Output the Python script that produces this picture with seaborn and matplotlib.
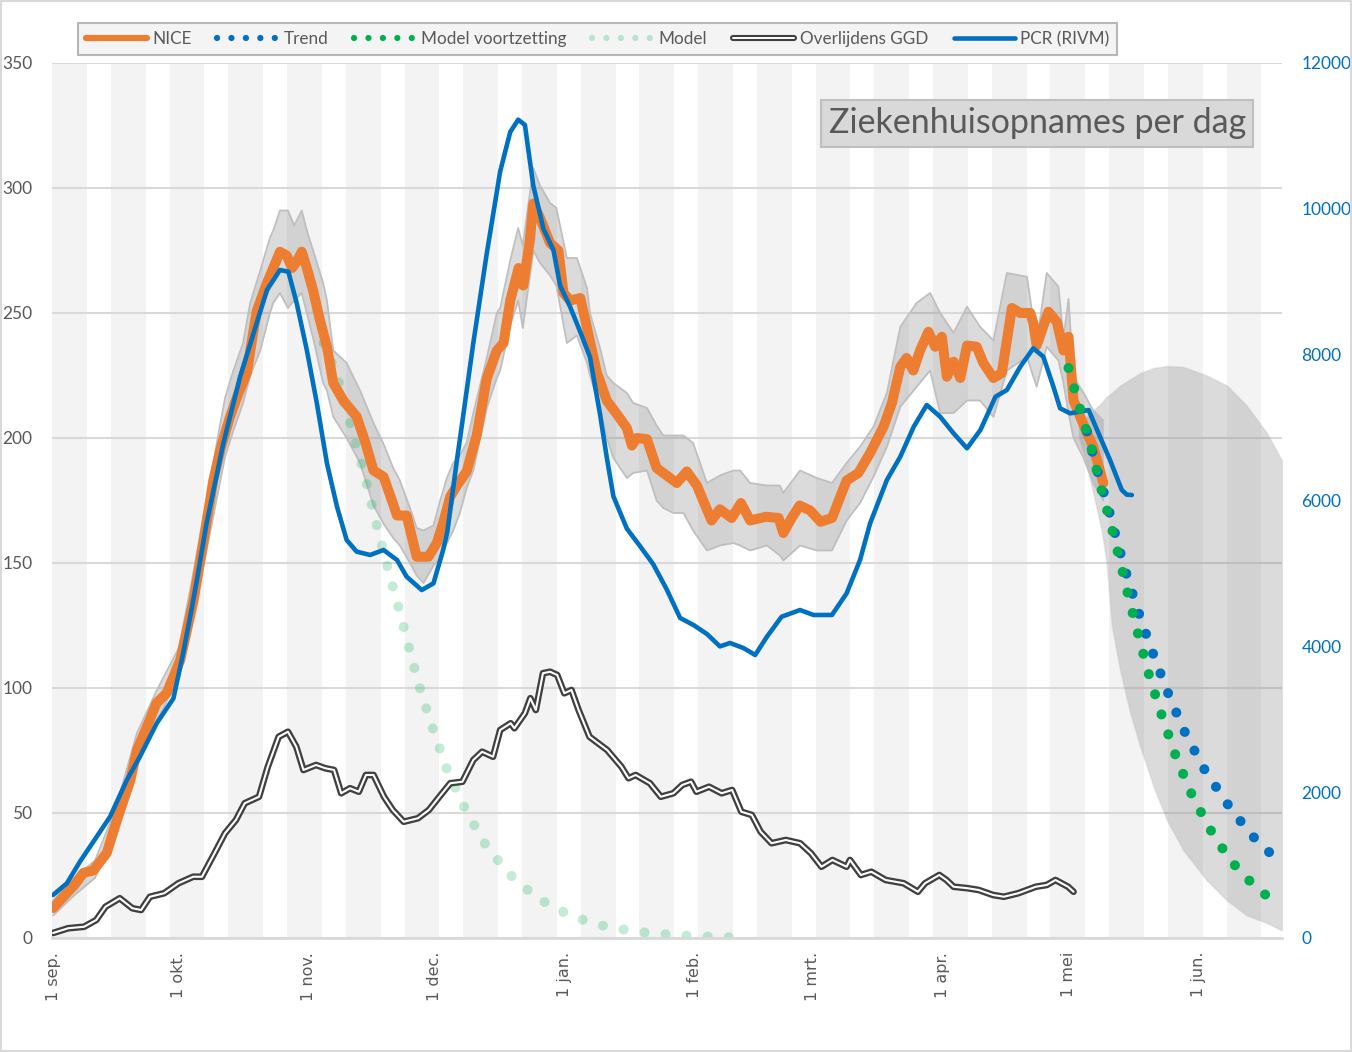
import seaborn as sns
import matplotlib.pyplot as plt
import matplotlib.patheffects as pe
from matplotlib.lines import Line2D
from matplotlib.patches import Rectangle
import pandas as pd

# days since 1 sep 2020
nice_days = [0, 3.3, 5, 7.2, 9.6, 12.8, 15.2, 18.4, 20, 22.5, 24.7, 27.1, 30.3, 33.5, 36, 38.2, 40, 42.2,
             44, 46.2, 47.5, 48.6, 51, 53, 54.1, 55.7, 57, 58.1, 59.3, 60.5, 62, 63.5, 65.3, 66.8, 69.2,
             72.4, 74.5, 76.4, 78.8, 81, 82, 84.3, 86.7, 89.5, 91.5, 93, 94.7, 96.3, 98.6, 101, 103.4,
             105.8, 107.4, 109, 111, 112.1, 113.7, 114.5, 116.1, 118.5, 120.5, 121.7, 123.3, 125.7, 127.3,
             129.6, 132, 134.4, 136.8, 138, 139.2, 141.6, 143.9, 146.3, 148.7, 151.1, 153.5, 155, 157, 159,
             161.8, 164, 166.2, 170, 173, 174.1, 176.1, 178, 180.5, 183, 185.7, 189.2, 192, 194.8, 198,
             200, 202, 203.5, 205.1, 206.7, 208.7, 210.3, 211.9, 213.1, 214.7, 216.3, 217.9, 220.2, 221.8,
             224.2, 226.2, 228.6, 230.6, 233, 233.7, 234.5, 237.3, 239.3, 240.9, 242.1, 243.3, 244.9,
             246.5, 248, 250.4]
nice_vals = [12, 18, 21, 26, 27, 34, 47, 63, 75, 85, 94, 98, 111, 135, 160, 183, 196, 208.5,
             217, 226, 240, 251, 262, 270, 274.5, 273, 268, 270.5, 274.5, 268, 259, 248, 236.5, 222, 215,
             208.5, 198, 187, 184.5, 174, 169, 169, 152.5, 152.5, 158, 166, 176.6, 181, 186.6, 201, 223.8,
             235, 238, 255, 268, 261, 279.5, 293.8, 288, 278, 275, 258, 255, 256, 244,
             226.6, 215, 209.6, 204, 197, 200, 199.5, 188, 185, 182, 186.6, 181, 175, 167, 171.5,
             168, 174, 167, 168.5, 168, 162, 168, 173, 171, 166.5, 168, 183, 186, 194, 204.5,
             214, 228.5, 232, 227, 235, 242.5, 236.5, 240.5, 224.5, 230.5, 224, 237, 236.5, 230,
             224, 226, 252, 250, 250, 246, 237, 250.5, 246.5, 235, 240.5, 215, 208.5,
             202, 196.5, 182]

band_days = [0, 5, 10, 15, 20, 25, 30, 33, 36, 41, 43, 45.3, 47, 49.4, 51.7, 52.5, 54.1, 56, 57.5, 59.3,
             60.5, 62, 64.4, 65.3, 66.8, 70, 73.2, 76.4, 78.7, 81.1, 82.7, 85.1, 86.7, 88.3, 90.7, 92.3,
             93.9, 95.4, 97, 98.6, 100.2, 101.8, 103.4, 105.8, 106.6, 109, 110.9, 112, 114.5, 116.1, 118.5,
             120, 122.5, 124.9, 127.3, 128, 130.4, 132, 133.6, 136.8, 138.3, 141.6, 143.9, 145.5, 147.9,
             150.3, 152.6, 155.9, 159, 162.2, 163.8, 166.2, 170.2, 173.3, 174.1, 178.1, 182.1, 185.7,
             189.2, 192.4, 195.6, 198.8, 202, 205.9, 209.1, 211.5, 214.7, 217.9, 221, 224.2, 227.4, 232.2,
             234.5, 236.9, 239.7, 240.9, 242.1, 243.3, 245.7, 248, 250.4]
band_lo = [9, 17, 24, 42, 70, 88, 104, 126, 150, 192.5, 203, 214, 225, 235, 250, 254, 258, 252, 255, 258,
           250, 240, 222, 219, 208.5, 200, 190, 173, 166, 160, 157, 150, 145, 142, 149, 152,
           158, 163, 170, 180, 187, 200, 212, 224, 227, 245, 255, 244, 275, 270, 265,
           261, 238, 241, 230, 225, 212, 200, 192, 184, 186, 187, 175, 172, 170,
           170, 163, 155, 157, 158, 157, 155, 157, 153, 151, 157, 155, 155,
           167, 174, 184.5, 196.5, 212.5, 220.5, 227, 210, 210, 215, 215, 208.5, 227, 232.5,
           220.5, 236.5, 231, 222, 210, 200, 192, 182, 175]
band_hi = [15, 24, 31, 52, 82, 100, 116, 142, 170, 216, 227, 238, 254, 267, 280, 283, 291, 291, 285, 291,
           283, 275, 262, 255, 235, 230, 219, 206, 198, 188, 183, 172, 164, 163, 165, 175,
           184, 190, 193, 198, 210, 221, 232, 250, 252, 271, 284, 277, 308, 301, 294,
           292, 272, 272, 260, 250, 236, 225, 222, 218, 214, 212, 205, 201, 201,
           201, 198, 182, 185, 187, 187, 182, 181, 181, 178, 187, 184, 182,
           190, 196.5, 204.5, 218, 244.5, 254, 258, 250, 242, 252.5, 244.5, 239, 266, 264.5,
           238, 266, 260.5, 240, 255.6, 224.5, 218, 211, 207]

pcr_days = [0, 3.3, 6.4, 10.4, 13.6, 17.6, 20.7, 24.7, 28.7, 31, 33, 34.3, 36.6, 40.6, 44.6, 47.8, 51,
            54.1, 56.1, 58.1, 60.5, 62.9, 65.3, 67.7, 70, 72.4, 75.6, 78.8, 82, 84.3, 87.9, 90.7, 93,
            94, 96.3, 97, 100.2, 103.4, 106.6, 109, 110.9, 112.5, 114.5, 116.9, 119.3, 120.9, 123.3,
            125.7, 128, 130.4, 132, 133.6, 136.8, 140, 143.1, 146.3, 149.5, 152.7, 155.9, 159, 161.4,
            164.6, 167.4, 170.2, 173.7, 178.1, 181.3, 185.7, 189.2, 192.4, 194.8, 198.8, 202, 205.2,
            208.3, 211.5, 214.7, 217.9, 221.1, 224.7, 227.4, 230.6, 233.7, 236.1, 238.5, 240.1, 242.5,
            246.9, 249.6, 252, 254.8, 256, 257.2]
pcr_vals = [590, 750, 1046, 1389, 1664, 2167, 2486, 2943, 3286, 3900, 4500, 4910, 5687, 6784, 7698, 8293,
            8887, 9161, 9138, 8704, 8064, 7333, 6510, 5915, 5458, 5298, 5253, 5321, 5184, 4955, 4772,
            4864, 5321, 5568, 6560, 6839, 8161, 9386, 10513, 11054, 11223, 11150, 10317, 9729, 9435,
            8946, 8653, 8311, 7968, 7186, 6596, 6056, 5615, 5370, 5125, 4782, 4389, 4292, 4169, 3999,
            4046, 3977, 3881, 4132, 4406, 4498, 4430, 4430, 4727, 5184, 5687, 6281, 6601, 7012, 7310,
            7149, 6921, 6716, 6967, 7424, 7515, 7835, 8087, 7972, 7561, 7264, 7195, 7241, 6875, 6555,
            6144, 6080, 6075]

ggd_days = [0, 3.6, 7.4, 10.3, 12.5, 15.9, 18.9, 21, 23.1, 26.5, 29.9, 33.4, 35.5, 38.5, 41, 43.6, 45.7,
            49.1, 51.2, 53.8, 56, 58, 59.7, 62.7, 64.9, 67, 68.7, 70.8, 72.9, 74.6, 76.4, 78.9, 81, 83.6,
            87, 89.6, 92.1, 94.7, 97.6, 100.2, 102.3, 104.9, 106.6, 109.1, 110, 112.5, 113.8, 115.1,
            116.8, 118.5, 120.2, 121.9, 123.6, 125.3, 127.9, 132.1, 135.5, 137.2, 138.9, 142.3, 144.9,
            147.9, 150, 152.1, 153.4, 156.4, 159.4, 161.9, 164.1, 166.6, 168.7, 171.3, 174.7, 178.1,
            180.7, 183.2, 185.8, 189.2, 190, 192.6, 195.1, 198.5, 202.8, 206.2, 207.9, 211.3, 213,
            214.7, 218.1, 220.7, 224.1, 226.7, 230.1, 234.3, 236.9, 239, 242, 243.3]
ggd_vals = [2, 3.9, 4.5, 7.2, 12.5, 15.9, 11.9, 11.2, 16.5, 17.9, 21.9, 24.5, 24.5, 33.9, 41.9, 47.2, 53.9,
            56.5, 68.5, 80.5, 82.5, 76.5, 67.2, 69.2, 67.9, 67.2, 57.9, 59.9, 58.5, 65.2, 65.2, 56.5, 51.2,
            46.5, 47.9, 51.2, 56.5, 61.9, 62.5, 71.2, 74.5, 72.5, 83.2, 85.9, 83.9, 89.9, 95.9, 91.2,
            105.9, 106.5, 105.2, 97.9, 99.2, 91.2, 80.5, 75.2, 68.5, 63.9, 65.2, 61.9, 56.5,
            57.9, 61.2, 62.5, 58.5, 60.5, 57.9, 59.2, 50.5, 49.2, 42.5, 37.9, 39.2, 37.9,
            33.9, 28.5, 31.2, 28.5, 31.2, 25.2, 26.5, 23.2, 21.9, 18.5, 21.9, 25.2, 23.2,
            20.5, 19.9, 19.2, 17.2, 16.5, 17.9, 20.5, 21.2, 23.2, 20.5, 18.5]

model_days = [64.5, 66.7, 68.2, 69.4, 70.8, 72.1, 73.4, 74.6, 75.7, 76.9, 78, 79.2, 80.4, 81.7, 83.5,
              85.3, 87.8, 90.8, 93.9, 97.9, 102.5, 108.4, 115.5, 123.9, 132.8, 142.5, 152, 161.4]
model_vals = [238, 229, 222, 214, 206, 198, 190.5, 183, 175, 167, 159.5, 152, 144, 136.5, 125,
              113.2, 97.9, 82.5, 67.5, 52.8, 38.8, 26.1, 15.9, 8.5, 4.1, 1.9, 0.8, 0.3]

cont_days = [242.1, 244.7, 247.4, 249.6, 252.1, 254.4, 256.6, 259, 261.5, 264.4, 267.5, 271.1, 275.5,
             280.6, 287.1, 291.1]
cont_vals = [228, 212.5, 197, 181.6, 166, 150.7, 135.2, 119.5, 104, 88.7, 73.6, 58.7, 44.4, 31.2, 19.6, 14.9]

trend_days = [246.5, 248.7, 251.5, 254, 256.6, 259.6, 262.8, 266.2, 270, 274.4, 279.7, 285.4, 292.3]
trend_vals = [6950, 6464, 5915, 5376, 4855, 4330, 3812, 3305, 2802, 2322, 1861, 1430, 1046]

cone_days = [244.5, 246, 248, 250, 251.2, 252.4, 254.4, 256.8, 259.2, 262.4, 265.6, 269.5, 275.1, 279.9,
             284.6, 289.4, 293]
cone_lo = [200, 192, 178, 163, 150, 125, 107, 90, 76.5, 60.5, 47, 35, 23, 15, 9, 6, 3]
cone_hi = [204, 208, 211, 214, 216.5, 218, 221, 223.5, 226, 228, 228.8, 228.5, 225, 221, 213, 202, 191]

month_days = [0, 30, 61, 91, 122, 153, 181, 212, 242, 273]
month_labels = ["1 sep.", "1 okt.", "1 nov.", "1 dec.", "1 jan.", "1 feb.", "1 mrt.", "1 apr.", "1 mei", "1 jun."]

ORANGE = "#ED7D31"
BLUE = "#0070C0"
GREEN = "#00B050"
TXT = "#595959"

sns.set_style("white")
plt.rcParams["font.family"] = ["Lato", "DejaVu Sans"]

fig = plt.figure(figsize=(13.52, 10.52), dpi=100)
ax = fig.add_axes([0.03846, 0.10837, 0.90976, 0.83175])

# week stripes
for k in range(21):
    ax.axvspan(14 * k - 0.2, 14 * k + 8.1, color="#f3f3f3", lw=0, zorder=0)

ax.set_axisbelow("line")
ax.yaxis.grid(True, color="#d9d9d9", lw=1.5)
ax.xaxis.grid(False)

ax.fill_between(band_days, band_lo, band_hi, color="#7f7f7f", alpha=0.28, lw=0, zorder=1.6)
ax.plot(band_days, band_lo, color="#bfbfbf", lw=1.3, zorder=1.7)
ax.plot(band_days, band_hi, color="#bfbfbf", lw=1.3, zorder=1.7)
ax.fill_between(cone_days, cone_lo, cone_hi, color="#7f7f7f", alpha=0.28,
                edgecolor="#bfbfbf", lw=1.3, zorder=1.6)

dotted = (0, (0.01, 2.1))

nice = pd.DataFrame({"dag": nice_days, "opnames": nice_vals})
ggd = pd.DataFrame({"dag": ggd_days, "overl": ggd_vals})
model = pd.DataFrame({"dag": model_days, "model": model_vals})

sns.lineplot(data=model, x="dag", y="model", ax=ax, color=GREEN, alpha=0.24, lw=7.2,
             linestyle=dotted, dash_capstyle="round")
sns.lineplot(data=ggd, x="dag", y="overl", ax=ax, color="white", lw=1.5,
             path_effects=[pe.Stroke(linewidth=4.8, foreground="#404040"), pe.Normal()])
sns.lineplot(data=nice, x="dag", y="opnames", ax=ax, color=ORANGE, lw=7.2)

ax.set_xlim(-0.25, 293)
ax.set_ylim(0, 350)
ax.set_yticks(range(0, 351, 50))
ax.set_xticks(month_days)
ax.set_xticklabels(month_labels, rotation=90, family="DejaVu Sans", fontsize=11.5, color=TXT)
ax.tick_params(axis="y", length=0, labelsize=12.5, labelcolor=TXT, pad=14)
ax.tick_params(axis="x", length=0, pad=10)
ax.set_xlabel("")
ax.set_ylabel("")
for s in ["top", "left", "right"]:
    ax.spines[s].set_visible(False)
ax.spines["bottom"].set_color("#d9d9d9")
ax.spines["bottom"].set_linewidth(2)

# right axis: PCR
ax2 = ax.twinx()
pcr = pd.DataFrame({"dag": pcr_days, "pcr": pcr_vals})
trend = pd.DataFrame({"dag": trend_days, "trend": trend_vals})
sns.lineplot(data=pcr, x="dag", y="pcr", ax=ax2, color=BLUE, lw=3.3)
sns.lineplot(data=trend, x="dag", y="trend", ax=ax2, color=BLUE, lw=7.2,
             linestyle=dotted, dash_capstyle="round")
ax2.set_ylim(0, 12000)
ax2.set_yticks(range(0, 12001, 2000))
ax2.tick_params(axis="y", length=0, labelsize=12.5, labelcolor=BLUE, pad=14)
ax2.set_ylabel("")
for s in ax2.spines.values():
    s.set_visible(False)

# model voortzetting on top (left scale)
ax3 = ax.twinx()
cont = pd.DataFrame({"dag": cont_days, "cont": cont_vals})
sns.lineplot(data=cont, x="dag", y="cont", ax=ax3, color=GREEN, lw=7.2,
             linestyle=dotted, dash_capstyle="round")
ax3.set_ylim(0, 350)
ax3.set_yticks([])
ax3.set_ylabel("")
for s in ax3.spines.values():
    s.set_visible(False)
ax3.set_xlim(-0.25, 293)

ax3.text(0.801, 0.931, "Ziekenhuisopnames per dag", transform=ax.transAxes, ha="center", va="center",
         fontsize=24.5, color=TXT,
         bbox=dict(boxstyle="square,pad=0.22", fc="#d9d9d9", ec="#bfbfbf", lw=1.5))

dot_leg = (0, (0.01, 2.3))
handles = [
    Line2D([], [], color=ORANGE, lw=4.5),
    Line2D([], [], color=BLUE, lw=4.5, linestyle=dot_leg, dash_capstyle="round"),
    Line2D([], [], color=GREEN, lw=4.5, linestyle=dot_leg, dash_capstyle="round"),
    Line2D([], [], color=GREEN, alpha=0.24, lw=4.5, linestyle=dot_leg, dash_capstyle="round"),
    Line2D([], [], color="white", lw=1.4, path_effects=[pe.Stroke(linewidth=4.4, foreground="#404040"), pe.Normal()]),
    Line2D([], [], color=BLUE, lw=3.3),
]
labels = ["NICE", "Trend", "Model voortzetting", "Model", "Overlijdens GGD", "PCR (RIVM)"]
leg = fig.legend(handles, labels, loc="center", bbox_to_anchor=(0.442, 0.963), ncol=6, fontsize=12.3,
                 handlelength=3.6, handletextpad=0.3, columnspacing=1.5, frameon=True, fancybox=False,
                 borderpad=0.45, labelcolor=TXT)
leg.get_frame().set_facecolor("#f2f2f2")
leg.get_frame().set_edgecolor("#a6a6a6")
leg.get_frame().set_linewidth(1.5)

fig.patches.append(Rectangle((0.001, 0.001), 0.998, 0.998, transform=fig.transFigure, fill=False,
                             ec="#d9d9d9", lw=1.5))

fig.savefig("out.png", dpi=100)
